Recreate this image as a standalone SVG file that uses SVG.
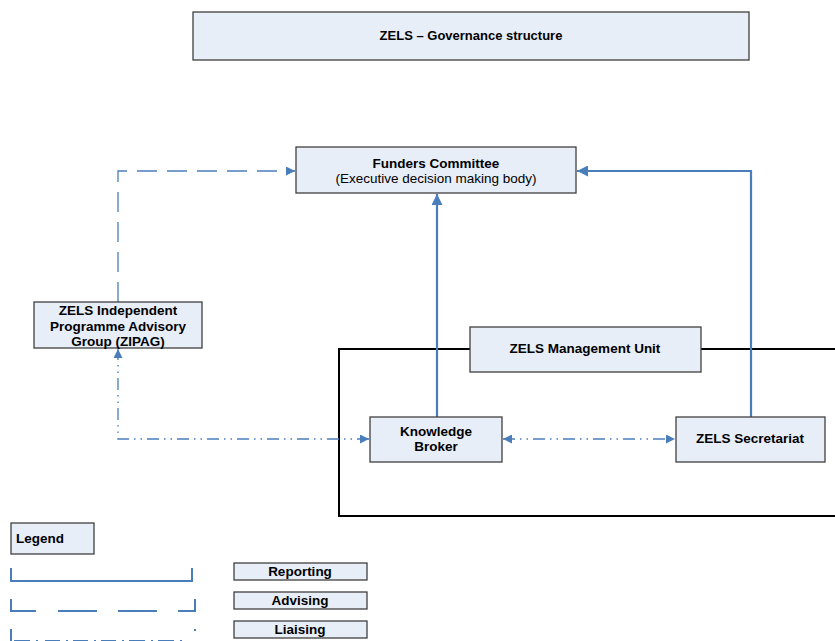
<svg xmlns="http://www.w3.org/2000/svg" width="835" height="641" viewBox="0 0 835 641">
<defs>
<style>
.box{fill:#e8eef8;stroke:#404040;stroke-width:1.3}
.t{font-family:"Liberation Sans",Arial,sans-serif;font-size:13.5px;fill:#000;text-anchor:middle}
.b{font-weight:bold}
.ln{fill:none;stroke:#4a7ebb;stroke-width:2.2}
.dash{fill:none;stroke:#4a7ebb;stroke-width:1.3;stroke-dasharray:20 10}
.ddot{fill:none;stroke:#4a7ebb;stroke-width:1.3;stroke-dasharray:12 5 1.5 5 1.5 5}
</style>
<marker id="ah" viewBox="0 0 10 10" refX="10" refY="5" markerWidth="10" markerHeight="9" markerUnits="userSpaceOnUse" orient="auto-start-reverse">
<path d="M0,0 L10,5 L0,10 z" fill="#4a7ebb"/>
</marker>
<marker id="ahL" viewBox="0 0 10 10" refX="10" refY="5" markerWidth="13" markerHeight="11" markerUnits="userSpaceOnUse" orient="auto-start-reverse">
<path d="M0,0 L10,5 L0,10 z" fill="#4a7ebb"/>
</marker>
</defs>
<rect width="835" height="641" fill="#fff"/>

<g id="title">
<rect class="box" x="193" y="12" width="556" height="48"/>
<text class="t b" x="471" y="40" style="font-size:13px">ZELS – Governance structure</text>
</g>

<g id="mgmt-frame">
<path d="M840,349 H339 V516 H840" fill="none" stroke="#000" stroke-width="2"/>
</g>

<g id="connectors">
<path class="ln" d="M437,417 V194" marker-end="url(#ahL)"/>
<path class="ln" d="M751,417 V171 H577" marker-end="url(#ahL)"/>
<path class="dash" d="M118,302 V171 H295" marker-end="url(#ah)"/>
<path class="ddot" d="M369,439 H118 V349" marker-start="url(#ah)" marker-end="url(#ah)"/>
<path class="ddot" d="M503,439 H675" marker-start="url(#ah)" marker-end="url(#ah)"/>
</g>

<g id="funders">
<rect class="box" x="296" y="147" width="280" height="46"/>
<text class="t b" x="436" y="168">Funders Committee</text>
<text class="t" x="436" y="183">(Executive decision making body)</text>
</g>

<g id="zipag">
<rect class="box" x="34" y="302" width="168" height="46"/>
<text class="t b" x="118" y="315">ZELS Independent</text>
<text class="t b" x="118" y="331">Programme Advisory</text>
<text class="t b" x="118" y="346">Group (ZIPAG)</text>
</g>

<g id="mgmt-unit">
<rect class="box" x="470" y="327" width="231" height="45"/>
<text class="t b" x="585" y="353">ZELS Management Unit</text>
</g>

<g id="knowledge-broker">
<rect class="box" x="370" y="417" width="132" height="45"/>
<text class="t b" x="436" y="436">Knowledge</text>
<text class="t b" x="436" y="451">Broker</text>
</g>

<g id="secretariat">
<rect class="box" x="676" y="417" width="149" height="45"/>
<text class="t b" x="750" y="443">ZELS Secretariat</text>
</g>

<g id="legend">
<rect class="box" x="11" y="523" width="83" height="31"/>
<text class="t b" x="16" y="543" style="text-anchor:start">Legend</text>
<path d="M11,568 V581 H192 V568" fill="none" stroke="#4a7ebb" stroke-width="2"/>
<path d="M11,599 V611 H36 M58,611 H97 M118,611 H157 M178,611 H195 V599" fill="none" stroke="#4a7ebb" stroke-width="2"/>
<path d="M11,629 V641 M14,641 H30 M36,641 H38 M45,641 H60 M66,641 H68 M73,641 H88 M94,641 H96 M101,641 H116 M122,641 H124 M129,641 H145 M151,641 H153 M158,641 H174 M180,641 H182 M195,629 V631" fill="none" stroke="#4a7ebb" stroke-width="2"/>
<rect class="box" x="234" y="563" width="133" height="17"/>
<text class="t b" x="300" y="576">Reporting</text>
<rect class="box" x="234" y="592" width="133" height="17"/>
<text class="t b" x="300" y="605">Advising</text>
<rect class="box" x="234" y="621" width="133" height="17"/>
<text class="t b" x="300" y="634">Liaising</text>
</g>
</svg>
